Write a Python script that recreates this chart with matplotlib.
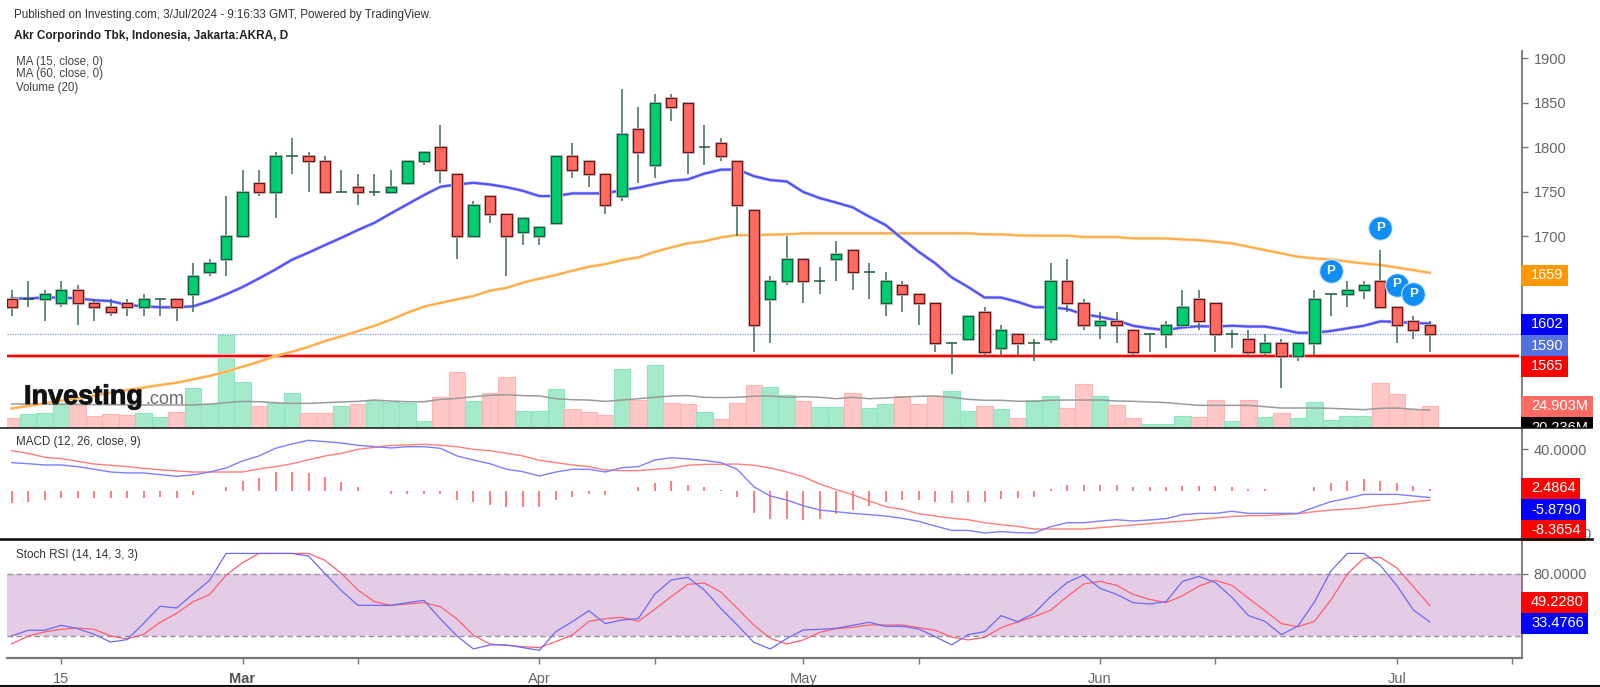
import matplotlib
matplotlib.use("Agg")
import matplotlib.pyplot as plt
import matplotlib.patheffects as pe
from matplotlib.patches import Rectangle
import numpy as np

plt.rcParams['font.family'] = ['Liberation Sans', 'DejaVu Sans']

# ---- data -------------------------------------------------------------
opens = [1630,1630,1630,1625,1640,1625,1620,1625,1620,1630,1630,1635,1660,1675,1700,1760,1750,1790,1790,1785,1750,1755,1750,1750,
         1760,1785,1800,1770,1700,1745,1725,1705,1700,1715,1790,1785,1770,1745,1820,1780,1855,1850,1800,1805,1785,1730,1630,1650,
         1675,1650,1675,1685,1660,1625,1645,1635,1625,1580,1585,1615,1575,1590,1580,1585,1650,1625,1600,1605,1595,1590,1590,1600,1630,
         1625,1590,1585,1570,1580,1565,1580,1635,1635,1640,1650,1620,1605,1600]
highs = [1640,1650,1640,1650,1645,1630,1630,1630,1635,1630,1630,1670,1675,1745,1775,1775,1795,1810,1795,1790,1775,1770,1770,1775,
         1785,1795,1825,1770,1740,1745,1725,1720,1710,1790,1805,1785,1770,1865,1845,1860,1860,1850,1825,1810,1785,1730,1655,1700,
         1675,1665,1695,1685,1670,1660,1650,1635,1625,1580,1610,1620,1600,1590,1585,1670,1675,1630,1615,1615,1595,1590,1605,1640,1640,
         1625,1595,1595,1590,1585,1580,1640,1635,1650,1650,1685,1620,1610,1605]
lows = [1610,1620,1605,1620,1600,1605,1610,1610,1610,1610,1605,1615,1655,1655,1700,1745,1720,1770,1750,1750,1750,1735,1745,1750,
        1760,1780,1760,1675,1700,1715,1655,1690,1690,1715,1765,1755,1725,1740,1760,1765,1830,1770,1780,1785,1700,1570,1580,1645,
        1625,1635,1650,1640,1630,1610,1615,1600,1570,1545,1585,1565,1565,1565,1560,1580,1615,1595,1585,1580,1565,1570,1575,1600,1595,
        1570,1575,1565,1565,1530,1560,1565,1610,1620,1630,1620,1580,1585,1570]
closes = [1620,1630,1635,1640,1625,1620,1615,1620,1630,1630,1620,1655,1670,1700,1750,1750,1790,1790,1785,1750,1750,1750,1750,1755,
          1785,1795,1775,1700,1735,1725,1700,1720,1710,1790,1775,1770,1735,1815,1795,1850,1845,1795,1800,1790,1735,1600,1650,1675,
          1650,1650,1680,1660,1660,1650,1635,1625,1580,1580,1610,1570,1595,1580,1580,1650,1625,1600,1605,1600,1570,1590,1600,1620,1605,
          1590,1590,1570,1580,1565,1580,1630,1635,1640,1645,1620,1600,1595,1590]

ma15 = [1629.9,1630.2,1631.1,1631.2,1630.2,1628.2,1627.2,1622.8,1621.3,1620.3,1620.3,1621.3,1627.2,1634.7,1643,1652.7,1662.8,1673.7,1681.6,1690.2,1698.4,1707.1,1715.2,1725.8,
        1736,1746.3,1755.7,1758.2,1760.1,1758.2,1755.2,1751.1,1745.2,1745.2,1748.2,1748.2,1748.2,1751.8,1754.6,1758.7,1762.4,1763.9,1770.4,1774.8,1775.2,1767.6,1763.2,1761.6,
        1749.8,1742.9,1737.9,1732.5,1722.1,1712.6,1697.4,1682.6,1669.7,1653.9,1643,1631.2,1631.2,1626.3,1620.3,1620.3,1618.3,1612.4,1609.5,1605.5,1599.5,1596.6,1594.6,1597.6,1599,
        1598.6,1599.5,1598.6,1598.6,1595.6,1591.6,1591.6,1593.6,1596.6,1599.5,1604.4,1603.9,1602.5,1602]
ma60 = [1506.6,1509.4,1512.4,1515.3,1518,1521,1524.4,1527.4,1530,1533,1535.4,1539.3,1543.1,1548,1553.6,1559,1565.6,1570.4,1575.8,1582.3,1587.6,1593.5,1599.5,1606.4,
        1614.2,1620.9,1625.2,1629.1,1632.9,1638.9,1642,1647.9,1652.4,1656.5,1661.3,1665.8,1668.7,1673.3,1676.3,1682.6,1687.5,1692.1,1694.4,1698.8,1701.4,1701.1,1701.9,1702.2,
        1703.3,1703.3,1703.3,1703.3,1703.3,1703.3,1703.3,1703.3,1703.3,1703.3,1703.3,1702.2,1702.2,1701,1700.7,1700.7,1700.7,1699.2,1699.2,1699.2,1697.6,1697.6,1697.6,1696.4,1695.7,
        1693.9,1692,1688.3,1684.5,1680.8,1677,1675.1,1674,1671.7,1669.5,1667.7,1665,1662,1659]

volume = [11,15.8,17.3,28.6,26,13.6,15.8,15,16.6,12.1,18.4,44.9,27.1,104.8,52.3,24.9,27.9,39.2,16.6,16.6,24.9,27.1,31.6,29.7,
          28.6,7.9,34.7,63.3,30.2,39.2,57.3,19.5,19.5,43.7,21.1,18.1,15,66.3,31.6,70.9,28.6,27.1,18.1,9.8,28.6,48.3,46.7,37.6,
          30.2,24.1,24.1,39.2,22.6,27.1,36.2,27.1,36.2,42.1,19.5,24.9,21.1,11,31.6,36.2,22.6,49.7,36.2,26,11,4.5,4.5,13.6,12.1,
          31.6,7.9,31.6,12.1,17.3,11,29,9,13.6,13.6,51.2,38.1,21.1,24.9]
vol_ma = [27.1,27.1,26.7,26.7,26.7,26.4,26.4,26,26,26,26,26,27.1,28.6,30.1,29.7,28.6,27.8,27.8,28.6,29.4,30.1,31.6,30.5,
          29.7,29.7,32.3,33.4,35.4,36.9,37.6,36.6,36.2,33.1,32,31.6,30.1,31.6,33.1,34.7,36.2,36.6,34.7,34.4,34.7,35.9,36.2,34.7,
          35.4,34.7,33.1,34.7,33.1,33.9,35,35.8,36.2,34.7,32.4,31.3,31.3,30.2,30.2,31.3,31.6,31.6,31.6,30.5,30.2,29.4,28.7,27.1,25.6,
          25.6,25.6,25.6,24.1,22.6,22.6,22.6,22.2,21.5,20.7,22.2,22.6,21.1,20.2]

macd_line = [27.3,26.3,25.1,25.1,23.5,21,18.4,17.5,17.5,15.9,14.3,15.6,18.4,22.2,28.9,33.7,41,45.1,48.6,47.3,46,43.8,42.5,41.3,
             42.5,42.5,41,33.7,29.8,26.3,21,18.7,14.6,18.4,21,21,18.4,22.5,23.5,29.8,32,30.8,29.5,27.3,21,4.4,-4.4,-8.3,
             -13.7,-17.8,-19.4,-21,-22.2,-23.5,-25.7,-28.6,-33,-37.2,-37.2,-39.7,-38.4,-39.4,-39.7,-33.7,-29.9,-29.9,-28.3,-27,-28.3,-27.3,-26,-22.2,-21,
             -21,-19,-21,-21,-21,-21,-15.2,-9.8,-6.7,-2.9,-2.9,-2.9,-4.4,-5.9]
signal_line = [38.7,36.2,32.4,31.1,28.6,26,24.8,23.5,21.9,20.6,19.4,18.4,18.4,18.4,18.4,21.3,23.5,26.3,30.1,33.7,36.2,40,41.9,43.8,
               44.1,44.8,43.8,42.5,40,38.7,36.2,33.7,29.5,27.3,25.1,23.5,20.3,19.7,19.7,21,22.2,24.8,25.7,25.7,26,24.8,22.2,18.4,
               13.9,7,1.6,-3.2,-9.2,-14.6,-17.2,-21.3,-23.5,-25.7,-27,-29.9,-31.8,-33.4,-35.9,-35.9,-35.9,-35.9,-34.6,-33.4,-32.1,-30.8,-29.5,-28.3,-27,
               -25.4,-24.1,-23.2,-23.2,-22.2,-21.3,-19.4,-17.8,-16.9,-15.6,-13.3,-12.1,-9.9,-8.4]
macd_hist = [-11.1,-10.2,-7.9,-6.3,-6.3,-6.3,-6.3,-6.3,-6.3,-5.4,-6.3,-3.8,0,3.8,10.2,12.7,18.1,18.7,17.8,13.7,8.9,3.8,0,-2.5,
             -2.5,-2.5,-2.5,-8.6,-10.2,-12.7,-15.2,-15.2,-15.2,-8.6,-5.1,-2.5,-3.8,0.6,3.8,7.6,10.2,6,3.8,1.3,-5.1,-20.3,-26.3,-26.3,
             -27.6,-26.3,-21.3,-17.8,-13.7,-10.2,-8.6,-8.6,-10.2,-11.1,-10.2,-10.2,-7.6,-6.3,-5.1,2.5,6,6,6,6,3.8,3.8,3.8,5.1,5.1,
             5.1,3.8,2.5,2.5,0,0,3.8,7.9,10.2,11.4,10.2,7.9,5.1,2.5]

stoch_k = [20,25.5,25.5,30.3,27.1,21.6,14.2,16.5,32.2,48.6,47,60.4,73.6,99.5,99.5,99.5,99.5,99.5,97,80,63.6,49.5,49.5,49.5,
           52.1,54.3,36.4,20,7.5,11.4,11.4,8.8,6.2,24.2,33.8,44.4,31.9,35.4,36.7,60.4,73.9,76.5,64.3,46.6,30.6,13.9,7.5,17.5,
           25.8,26.4,27.4,30.3,33.2,29.3,29.3,26.8,19.4,11.4,21.3,24.2,39.6,33.8,41.8,57.9,71.4,78.7,65.9,60.1,52.1,50.8,53,72.6,77.4,
           71.4,57.2,39.6,34.1,21.3,29.6,52.7,82.6,99.5,99.5,88,68.5,45,33.5]
stoch_d = [12.3,20,23.9,26.4,27.7,26.4,20,17.1,21.6,33.2,41.8,53,59.8,78.7,90.6,99.5,99.5,99.5,99.5,92.8,80,64.3,53,49.5,
           50.8,52.1,48.2,36.4,20.7,12.3,11,9.7,8.8,14.6,21,34.1,36.7,38,34.1,45.7,57.9,69.7,71,62.4,46.6,30.6,17.8,12.3,
           16.2,23.5,27.1,28.4,30.6,30.6,30.6,28,25.5,19,16.2,18.7,28,33.5,38.6,44.7,57.9,70,72.6,68.8,60.1,55.3,52.1,58.8,68.1,
           73.6,68.8,56.3,44.4,31.9,29,34.1,54.7,79.7,94.8,95.7,85.5,67.5,49.2]

last_price = 1590
support = 1565
price_ticks = [1550,1600,1650,1700,1750,1800,1850,1900]
macd_ticks = [40,-40]
stoch_ticks = [80]
stoch_band = (20,80)
date_ticks = [3,14,21,32,39,48,55,66,73,84,91]
date_labels = ['15','Mar','','Apr','','May','','Jun','','Jul','']
pin_idx = [80,83,84,85]
pin_price = [1660.7,1708.8,1645.6,1634.9]

# value tags: text, face colour, top px, bottom px, right px
tags = [('1659','#FF9800',265,285.5,1568),
        ('1602','#0000FF',314,335,1568),
        ('1590','#5473E0',335,356,1568),
        ('1565','#FF0000',356,377,1568),
        ('24.903M','#FF6B63',396,417,1592.5),
        ('20.236M','#000000',417,438,1592.5),
        ('2.4864','#FF0000',478,499,1580),
        ('-5.8790','#0000FF',499,520,1586),
        ('-8.3654','#FF0000',520,541,1586),
        ('49.2280','#FF0000',592,613,1588),
        ('33.4766','#0000FF',613,633.5,1588)]

# ---- figure ------------------------------------------------------------
W, H = 1600, 687
fig = plt.figure(figsize=(W/100, H/100), dpi=100, facecolor='white')

L, R = 7, 1522
def axes_px(top, bottom):
    return fig.add_axes([L/W, 1-bottom/H, (R-L)/W, (bottom-top)/H])

x = np.arange(len(closes))
xlim = ((L-11.7)/16.49, (R-11.7)/16.49)
GREY = '#777777'
TXT = '#666666'

ax_vol = axes_px(51, 428)
ax = axes_px(51, 428)
ax_m = axes_px(428, 539)
ax_s = axes_px(539, 658)

for a in (ax_vol, ax, ax_m, ax_s):
    a.set_xlim(*xlim)
    for s in ('top', 'left', 'bottom'):
        a.spines[s].set_visible(False)
    a.spines['right'].set_color(GREY)
    a.spines['right'].set_linewidth(1.3)
    a.yaxis.tick_right()
    a.set_xticks([])
    a.tick_params(axis='y', colors=GREY, length=4, width=1, labelsize=10.5, pad=4.5, labelcolor=TXT)

# volume pane
ax_vol.set_ylim(0, 426)
ax_vol.set_yticks([])
ax_vol.spines['right'].set_visible(False)
op, cl = np.array(opens), np.array(closes)
up = cl >= op
ax_vol.bar(x, volume, width=1.0,
           color=np.where(up, '#A5EBCB', '#FFC8C7'),
           edgecolor=np.where(up, '#8FE5BF', '#FFB5B4'), linewidth=0.8, zorder=1)
ax_vol.plot(x, vol_ma, color='#9A9A9A', lw=1.1, zorder=2)

# price pane
ax.patch.set_alpha(0)
ax.set_ylim(1484.6, 1908.2)
ax.set_yticks(price_ticks)
ax.axhline(last_price, color='#8496EC', lw=0.9, ls=(0, (1, 1)), zorder=1)
ax.plot([xlim[0], xlim[1]-0.2], [support, support], color='#FFD0D0', lw=3.2, zorder=1.5, solid_capstyle='butt')
ax.plot([xlim[0], xlim[1]-0.2], [support, support], color='#FF0000', lw=1.7, zorder=1.6, solid_capstyle='butt')
ax.plot(x, ma60, color='#FFD6A6', lw=2.2, zorder=2)
ax.plot(x, ma60, color='#FFAC47', lw=1.3, zorder=2.1)
ax.plot(x, ma15, color='#BDBDFF', lw=2.4, zorder=2.2)
ax.plot(x, ma15, color='#5050FA', lw=1.5, zorder=2.3)

ax.vlines(x, lows, highs, color='#3D6D55', lw=1.1, zorder=3)
body_bottom = np.minimum(op, cl)
body_height = np.abs(cl-op)
solid = body_height > 0
bw = 0.62
ax.bar(x[solid], body_height[solid], bottom=body_bottom[solid], width=bw, color='none',
       edgecolor='#BDBDBD', linewidth=2.0, zorder=3.1)
ax.bar(x[solid], body_height[solid], bottom=body_bottom[solid], width=bw,
       color=np.where(up[solid], '#00CC70', '#FF6B61'),
       edgecolor=np.where(up[solid], '#0E5F3C', '#6E1414'), linewidth=0.9, zorder=3.2)
ax.hlines(op[~solid], x[~solid]-0.34, x[~solid]+0.34, color='#1E5A3A', lw=1.1, zorder=3.2)

ax.scatter(pin_idx, pin_price, s=290, color='#118EF5', edgecolors='#D5E9FB', linewidths=0.8, zorder=5)
for i, p in zip(pin_idx, pin_price):
    ax.text(i, p+0.5, 'P', color='white', fontsize=9.5, fontweight='bold', ha='center', va='center', zorder=6)

# MACD pane
ax_m.set_ylim(-45.4, 60.3)
ax_m.set_yticks(macd_ticks)
ax_m.set_yticklabels(['%.4f' % v for v in macd_ticks])
ax_m.vlines(x, 0, macd_hist, color='#FF5A5A', lw=1.1)
ax_m.plot(x, signal_line, color='#FF7F7F', lw=1.0)
ax_m.plot(x, macd_line, color='#7F7FFF', lw=1.0)

# Stoch pane
ax_s.set_ylim(-1.2, 113.4)
ax_s.set_yticks(stoch_ticks)
ax_s.set_yticklabels(['%.4f' % v for v in stoch_ticks])
ax_s.axhspan(*stoch_band, color='#E4CCE7', lw=0, zorder=0)
for level in stoch_band:
    ax_s.axhline(level, color='#9A9099', lw=1.0, ls=(0, (4, 2.5)), zorder=1)
ax_s.plot(x, stoch_d, color='#FF5F6F', lw=0.9, zorder=2)
ax_s.plot(x, stoch_k, color='#6A6AF5', lw=0.9, zorder=2.1)
ax_s.spines['bottom'].set_visible(True)
ax_s.spines['bottom'].set_color(GREY)
ax_s.spines['bottom'].set_linewidth(1.6)
ax_s.set_xticks(date_ticks)
ax_s.set_xticklabels(date_labels)
ax_s.tick_params(axis='x', colors=GREY, length=4, width=1, labelsize=10.5, pad=6, labelcolor=TXT)
for lab in ax_s.get_xticklabels():
    if lab.get_text() == 'Mar':
        lab.set_fontweight('bold')
        lab.set_color('#555555')

# overlay in figure pixels: headers, logo, tags and pane rules
ov = fig.add_axes([0, 0, 1, 1], zorder=10)
ov.set_xlim(0, W)
ov.set_ylim(H, 0)
ov.axis('off')
ov.patch.set_alpha(0)

ov.text(14, 15, 'Published on Investing.com, 3/Jul/2024 - 9:16:33 GMT, Powered by TradingView.',
        fontsize=8.4, color='#333333', va='center')
ov.text(14, 36, 'Akr Corporindo Tbk, Indonesia, Jakarta:AKRA, D', fontsize=8.5, fontweight='bold',
        color='#222222', va='center')
for yy, s in zip((62, 74, 88), ('MA (15, close, 0)', 'MA (60, close, 0)', 'Volume (20)')):
    ov.text(16, yy, s, fontsize=8.3, color='#444444', va='center')
ov.text(16, 442.5, 'MACD (12, 26, close, 9)', fontsize=8.4, color='#333333', va='center')
ov.text(16, 555, 'Stoch RSI (14, 14, 3, 3)', fontsize=8.4, color='#333333', va='center')

ov.text(24, 397, 'Investing', fontsize=19.5, fontweight='bold', color='#111111', va='center', alpha=0.95,
        path_effects=[pe.withStroke(linewidth=0.7, foreground='#222222')])
ov.text(145, 399, '.com', fontsize=13, color='#555555', va='center', alpha=0.85)

for text, face, top, bot, right in tags:
    ov.add_patch(Rectangle((1521, top), right-1521, bot-top, facecolor=face, edgecolor='none', zorder=3))
    t = ov.text(1531, (top+bot)/2, text, color='white', fontsize=10.5, va='center', zorder=4)
    if text in ('20.236M', '-8.3654'):
        limit = 428 if text == '20.236M' else 539
        clip = Rectangle((1521, top), right-1521, limit-top, transform=ov.transData)
        t.set_clip_path(clip)
        t.set_clip_on(True)

ov.add_patch(Rectangle((1521, 428), 73, 12, facecolor='white', edgecolor='none', zorder=3.5))
ov.plot([1521.7, 1521.7], [428, 440], color=GREY, lw=1.3, zorder=3.6)
ov.plot([0, 1592], [428, 428], color='#111111', lw=1.1, zorder=5)
ov.plot([0, 1592], [539, 539], color='#111111', lw=1.9, zorder=5)
ov.plot([0, W], [685.5, 685.5], color='#111111', lw=1.5, zorder=5)

fig.savefig('out.png', dpi=100, facecolor='white')
